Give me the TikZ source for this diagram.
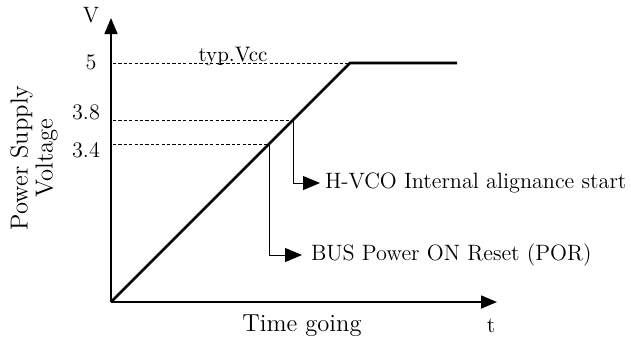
\documentclass[tikz,border=0pt]{standalone}
\usetikzlibrary{arrows.meta}

\tikzset{
    axisline/.style={line width=0.75pt, -{Triangle[length=8pt,width=6.5pt]}},
    guide/.style={line width=0.45pt, dash pattern=on 1.6pt off 1.1pt},
    callout/.style={line width=0.5pt, -{Triangle[length=8.5pt,width=7pt]}},
    lbl/.style={inner sep=0pt, font=\fontsize{11.1}{13}\selectfont},
    biglbl/.style={inner sep=0pt, font=\fontsize{12.3}{12.5}\selectfont},
}

\begin{document}
\begin{tikzpicture}[x=0.5pt, y=-0.5pt]

        % ===============================
        % Marco (pixeles de la referencia)
        % ===============================
        \useasboundingbox (0,0) rectangle (631,344);

        % Puntos de la rampa
        \coordinate (O)    at (111,302);
        \coordinate (vcc)  at (350,63);
        \coordinate (flat) at (457,63);
        \coordinate (p38)  at (293,120);
        \coordinate (p34)  at (269,144);

        % ===============================
        % Ejes
        % ===============================
        \coordinate (ytop)   at (111,18);
        \coordinate (xright) at (497,302);
        \draw[axisline] (O) -- (ytop);
        \draw[axisline] (O) -- (xright);
        \node[lbl] (vlab) at (91,15) {V};
        \node[lbl] (tlab) at (491,326) {t};
        \node[biglbl] (time) at (302,326) {Time going};
        \node[biglbl, rotate=90, align=center] (supply) at (34,158)
            {Power Supply\\Voltage};

        % ===============================
        % Niveles de tension
        % ===============================
        \node[lbl] (n5)  at (91,62)  {5};
        \node[lbl] (n38) at (86,112) {3.8};
        \node[lbl] (n34) at (86,150) {3.4};
        \foreach \p/\y in {vcc/63, p38/120, p34/144}{
                \draw[guide] (113,\y) -- (\p);
            }
        \node[inner sep=0pt, font=\fontsize{10.5}{12}\selectfont, anchor=base]
            (typ) at (233,61) {typ.Vcc};

        % ===============================
        % Tension de alimentacion
        % ===============================
        \draw[line width=1.3pt] (O) -- (vcc) -- (flat);

        % ===============================
        % Eventos
        % ===============================
        \node[lbl, anchor=west, outer xsep=2.5pt] (hvco) at (320,183) {H-VCO Internal alignance start};
        \node[lbl, anchor=west, outer xsep=4.5pt] (por)  at (302,255) {BUS Power ON Reset (POR)};
        \draw[callout] (p38) |- (hvco.west);
        \draw[callout] (p34) |- (por.west);

    \end{tikzpicture}
\end{document}
